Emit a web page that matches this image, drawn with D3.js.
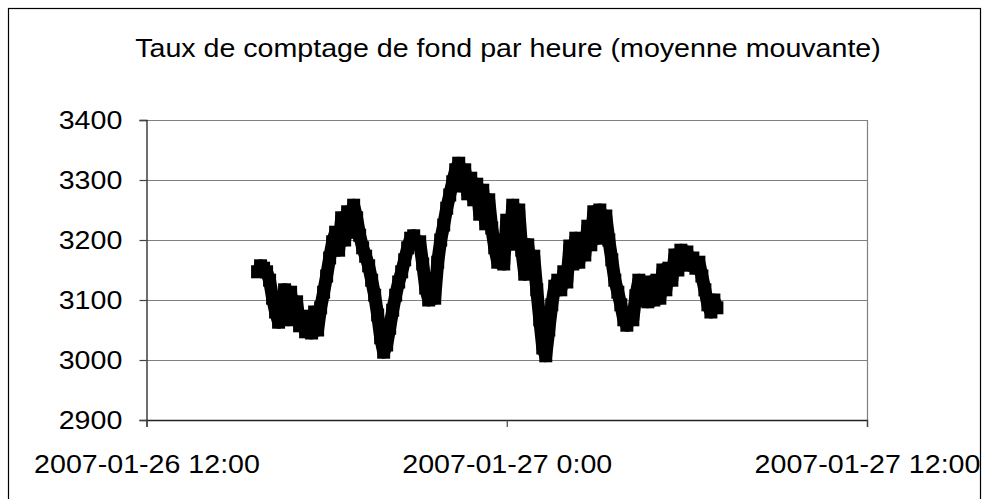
<!DOCTYPE html>
<html>
<head>
<meta charset="utf-8">
<script src="https://cdn.jsdelivr.net/npm/d3@7"></script>
<style>
  body { margin: 0; background: #fff; }
  text { font-family: "Liberation Sans", Arial, sans-serif; fill: #000; }
</style>
</head>
<body>
<svg width="990" height="499"></svg>
<script>
// moving average of background count rate, one reading every 6 minutes
var startTime = "2007-01-26 15:42";
var stepMinutes = 6;
var rates = [
  3147, 3157, 3153, 3147, 3133, 3103, 3080, 3063, 3070, 3117,
  3067, 3113, 3070, 3097, 3057, 3073, 3047, 3070, 3045, 3080,
  3050, 3087, 3113, 3140, 3170, 3197, 3213, 3183, 3237, 3200,
  3247, 3213, 3258, 3237, 3208, 3187, 3173, 3157, 3133, 3108,
  3075, 3037, 3013, 3025, 3053, 3083, 3108, 3130, 3147, 3167,
  3187, 3203, 3207, 3193, 3197, 3160, 3120, 3100, 3120, 3103,
  3163, 3200, 3225, 3253, 3275, 3297, 3317, 3328, 3290, 3317,
  3277, 3303, 3267, 3293, 3243, 3283, 3227, 3267, 3220, 3187,
  3163, 3193, 3160, 3233, 3193, 3258, 3220, 3250, 3183, 3143,
  3192, 3150, 3173, 3117, 3067, 3020, 3007, 3050, 3092, 3123,
  3133, 3117, 3147, 3130, 3190, 3160, 3203, 3163, 3200, 3175,
  3223, 3192, 3247, 3203, 3250, 3217, 3240, 3200, 3167, 3133,
  3113, 3092, 3067, 3058, 3075, 3067, 3107, 3133, 3100, 3125,
  3097, 3130, 3100, 3133, 3103, 3150, 3117, 3153, 3133, 3175,
  3150, 3183, 3163, 3180, 3158, 3170, 3153, 3163, 3140, 3117,
  3092, 3080, 3100, 3087
];
var xTicks = ["2007-01-26 12:00", "2007-01-27 0:00", "2007-01-27 12:00"];
var yTicks = [2900, 3000, 3100, 3200, 3300, 3400];
var title = "Taux de comptage de fond par heure (moyenne mouvante)";

var parse = d3.timeParse("%Y-%m-%d %H:%M");
var t0 = parse(startTime);
var data = rates.map(function (v, i) {
  return { time: d3.timeMinute.offset(t0, i * stepMinutes), value: v };
});

var svg = d3.select("svg");
var stretch = 1.1; // the reference text is a bit wider than plain Arial
var fontSize = 26;

// outer chart frame
svg.append("rect")
  .attr("x", 8.5).attr("y", 8.5)
  .attr("width", 972).attr("height", 520)
  .attr("fill", "none").attr("stroke", "#000").attr("stroke-width", 1.2);

var plot = { left: 146.5, right: 867, top: 120, bottom: 420 };

var x = d3.scaleTime()
  .domain([parse(xTicks[0]), parse(xTicks[2])])
  .range([plot.left, plot.right]);

var y = d3.scaleLinear()
  .domain([yTicks[0], yTicks[yTicks.length - 1]])
  .range([plot.bottom, plot.top]);

// gridlines
svg.append("g")
  .selectAll("line")
  .data(yTicks.slice(1))
  .enter().append("line")
  .attr("x1", plot.left).attr("x2", plot.right)
  .attr("y1", function (d) { return Math.round(y(d)) + 0.5; })
  .attr("y2", function (d) { return Math.round(y(d)) + 0.5; })
  .attr("stroke", "#808080").attr("stroke-width", 1.2);

// right side of plot area
svg.append("line")
  .attr("x1", plot.right + 0.5).attr("x2", plot.right + 0.5)
  .attr("y1", plot.top).attr("y2", plot.bottom)
  .attr("stroke", "#808080").attr("stroke-width", 1.2);

// y axis
var yAxis = svg.append("g")
  .attr("transform", "translate(" + plot.left + ",0)")
  .call(d3.axisLeft(y).tickValues(yTicks).tickSize(7).tickPadding(15).tickFormat(d3.format("d")));
yAxis.select(".domain").attr("stroke", "#222").attr("stroke-width", 1.3);
yAxis.selectAll(".tick line").attr("stroke", "#444").attr("stroke-width", 1.2);
yAxis.selectAll("text")
  .attr("font-size", fontSize)
  .attr("font-family", "Liberation Sans, Arial, sans-serif")
  .attr("transform", "scale(" + stretch + ",1)");

// x axis
var xAxis = svg.append("g")
  .attr("transform", "translate(0," + plot.bottom + ")")
  .call(d3.axisBottom(x)
    .tickValues(xTicks.map(parse))
    .tickSize(7).tickPadding(28)
    .tickFormat(function (d, i) { return xTicks[i]; }));
xAxis.select(".domain").attr("stroke", "#222").attr("stroke-width", 1.3);
xAxis.selectAll(".tick line").attr("stroke", "#444").attr("stroke-width", 1.2);
xAxis.selectAll("text")
  .attr("font-size", fontSize)
  .attr("font-family", "Liberation Sans, Arial, sans-serif")
  .attr("transform", "scale(" + stretch + ",1)");

// series: thick line with square markers
var line = d3.line()
  .x(function (d) { return x(d.time); })
  .y(function (d) { return y(d.value); });

svg.append("path")
  .datum(data)
  .attr("d", line)
  .attr("fill", "none")
  .attr("stroke", "#000")
  .attr("stroke-width", 13)
  .attr("stroke-linejoin", "round");

var size = 13;
svg.append("g")
  .selectAll("rect")
  .data(data)
  .enter().append("rect")
  .attr("x", function (d) { return x(d.time) - size / 2; })
  .attr("y", function (d) { return y(d.value) - size / 2; })
  .attr("width", size)
  .attr("height", size)
  .attr("fill", "#000");

// title
svg.append("text")
  .attr("transform", "translate(508,57) scale(" + stretch + ",1)")
  .attr("text-anchor", "middle")
  .attr("font-size", fontSize)
  .text(title);
</script>
</body>
</html>
